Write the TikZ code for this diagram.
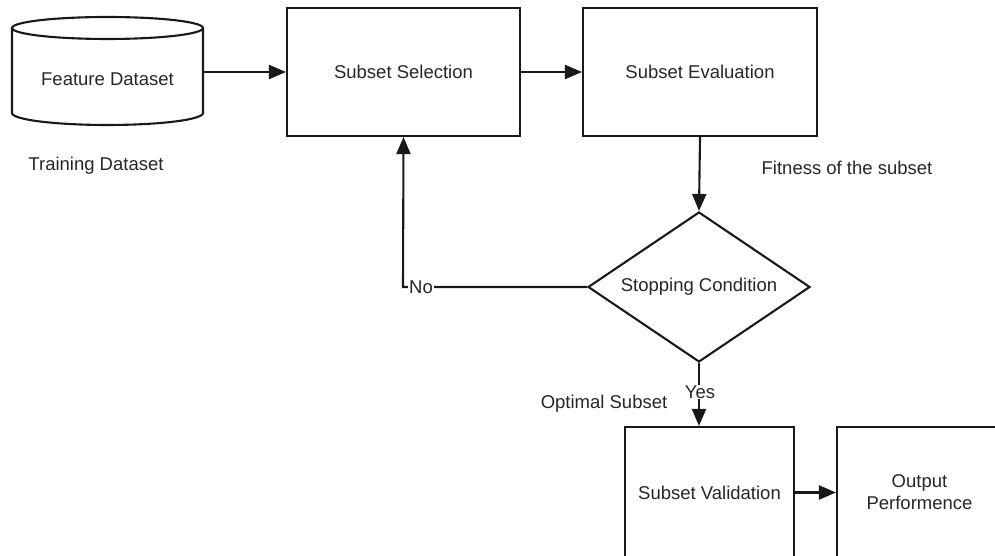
\documentclass[tikz,border=0pt]{standalone}
\usepackage{fontspec}
\setmainfont{Liberation Sans}
\usetikzlibrary{arrows.meta,shapes.geometric}
\begin{document}
\begin{tikzpicture}[x=1pt,y=1pt,
  every node/.style={font=\fontsize{18.5}{22}\selectfont, text=black!85},
  line/.style={line width=2.1pt, draw=black!90},
  arr/.style={line width=2.1pt, draw=black!90, -{Triangle[length=17pt,width=14pt]}},
  procbox/.style={draw=black!90, line width=2.1pt, rectangle, inner sep=0pt, align=center},
  decision/.style={draw=black!90, line width=2.1pt, diamond, inner sep=0pt, aspect=1.48},
  lbl/.style={inner sep=1pt}]
\useasboundingbox (0,0) rectangle (995,556);
% cylinder
\draw[line] (107.5,528) ellipse [x radius=95.5, y radius=11];
\draw[line] (12,528) -- (12,443) arc [start angle=180, end angle=360, x radius=95.5, y radius=12] -- (203,528);
\node (fd) at (107.5,477) [minimum width=191pt, inner sep=0pt] {Feature Dataset};
% boxes
\node[procbox, minimum width=233pt, minimum height=128pt] (ss) at (403.5,484) {Subset Selection};
\node[procbox, minimum width=234pt, minimum height=128pt] (se) at (700,484) {Subset Evaluation};
\node[decision, minimum width=222pt, minimum height=150pt] (dc) at (699,269) {Stopping Condition};
\node[procbox, minimum width=169pt, minimum height=131pt] (sv) at (709.5,63.5) {Subset Validation};
\node[procbox, minimum width=165pt, minimum height=131pt] (op) at (919.5,63.5) {Output\\Performence};
% labels
\node[lbl] (td) at (96,390) {Training Dataset};
\node[lbl] (fit) at (847,388) {Fitness of the subset};
\node[lbl] (opt) at (604,152) {Optimal Subset};
% connectors
\draw[arr] (fd.east |- ss.west) -- (ss.west);
\draw[arr] (ss.east) -- (se.west);
\draw[arr] (se.south) -- (dc.north);
\coordinate (corner) at (403,269);
\draw[arr] (dc.west) -- (corner) -- (ss.south);
\node[fill=white, inner sep=1pt] (no) at (421,269) {No};
\draw[arr] (dc.south) -- (dc.south |- sv.north);
\node[fill=white, inner sep=1pt] (yes) at (700,164) {Yes};
\draw[arr] (sv.east) -- (op.west);
\end{tikzpicture}
\end{document}
